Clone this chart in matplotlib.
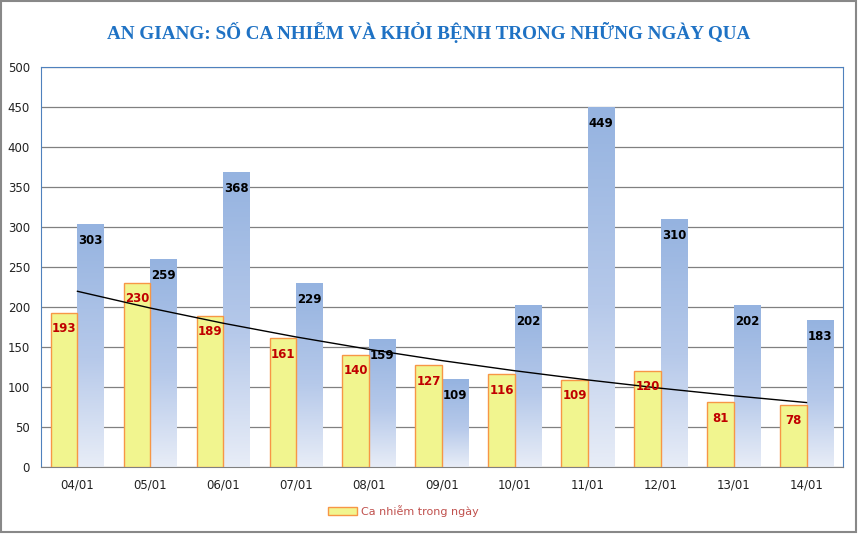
import numpy as np
import matplotlib.pyplot as plt
from matplotlib.patches import Rectangle
from matplotlib.colors import LinearSegmentedColormap

# du lieu doc tu bieu do
days = ['04/01', '05/01', '06/01', '07/01', '08/01', '09/01',
        '10/01', '11/01', '12/01', '13/01', '14/01']
ca_nhiem = [193, 230, 189, 161, 140, 127, 116, 109, 120, 81, 78]
khoi_benh = [303, 259, 368, 229, 159, 109, 202, 449, 310, 202, 183]
yticks = [0, 50, 100, 150, 200, 250, 300, 350, 400, 450, 500]

fig = plt.figure(figsize=(8.58, 5.34), dpi=100)
ax = fig.add_axes([0.0478, 0.1255, 0.9347, 0.749])

x = np.arange(len(days))
w = 0.365

# cot vang (ca nhiem)
bars = ax.bar(x - w/2, ca_nhiem, w, color='#f1f58f', edgecolor='#f79646',
              linewidth=1.0, zorder=3, label='Ca nhiễm trong ngày')

# cot xanh (khoi benh) voi mau chuyen
grad = np.linspace(0, 1, 256).reshape(-1, 1)
cmap = LinearSegmentedColormap.from_list(
    'b', [(0, '#e8edf7'), (0.45, '#b6c9ea'), (1, '#95b3e0')])
for xi, h in zip(x, khoi_benh):
    ax.imshow(grad, extent=[xi, xi + w, 0, h], origin='lower', cmap=cmap,
              aspect='auto', zorder=2)

# duong xu huong (mu)
coef = np.polyfit(x, np.log(ca_nhiem), 1)
trend = np.exp(np.polyval(coef, x))
ax.plot(x, trend, color='black', lw=1.0, zorder=4)

for xi, v in zip(x, ca_nhiem):
    ax.text(xi - w/2, v - 20, str(v), ha='center', va='center', fontsize=8.5,
            fontweight='bold', color='#c00000', zorder=5)
for xi, v in zip(x, khoi_benh):
    ax.text(xi + w/2, v - 20, str(v), ha='center', va='center', fontsize=8.5,
            fontweight='bold', color='black', zorder=5)

ax.set_xlim(-0.5, len(days) - 0.5)
ax.set_ylim(0, 500)
ax.set_yticks(yticks)
ax.set_xticks(x)
ax.set_xticklabels(days)
ax.tick_params(axis='both', length=0, labelsize=8.5, colors='#222222')
ax.tick_params(axis='x', pad=8)
ax.tick_params(axis='y', pad=8)
ax.yaxis.grid(True, color='#808080', lw=0.9, zorder=1)
ax.set_axisbelow(True)
for s in ['left', 'right', 'top']:
    ax.spines[s].set_color('#4f81bd')
ax.spines['bottom'].set_color('#808080')

fig.text(0.5, 0.94, 'AN GIANG: SỐ CA NHIỄM VÀ KHỎI BỆNH TRONG NHỮNG NGÀY QUA',
         ha='center', va='center', fontsize=13.8, fontweight='bold',
         color='#1f72c4', family='Liberation Serif')

leg = fig.legend(handles=[bars], loc='center', bbox_to_anchor=(0.47, 0.043),
                 frameon=False, fontsize=8, handlelength=2.6, handleheight=0.7,
                 handletextpad=0.4)
for t in leg.get_texts():
    t.set_color('#c0504d')

fig.add_artist(Rectangle((0.001, 0.003), 0.997, 0.995, transform=fig.transFigure,
                         fill=False, edgecolor='#888888', lw=1.5))

fig.savefig('out.png', dpi=100)
